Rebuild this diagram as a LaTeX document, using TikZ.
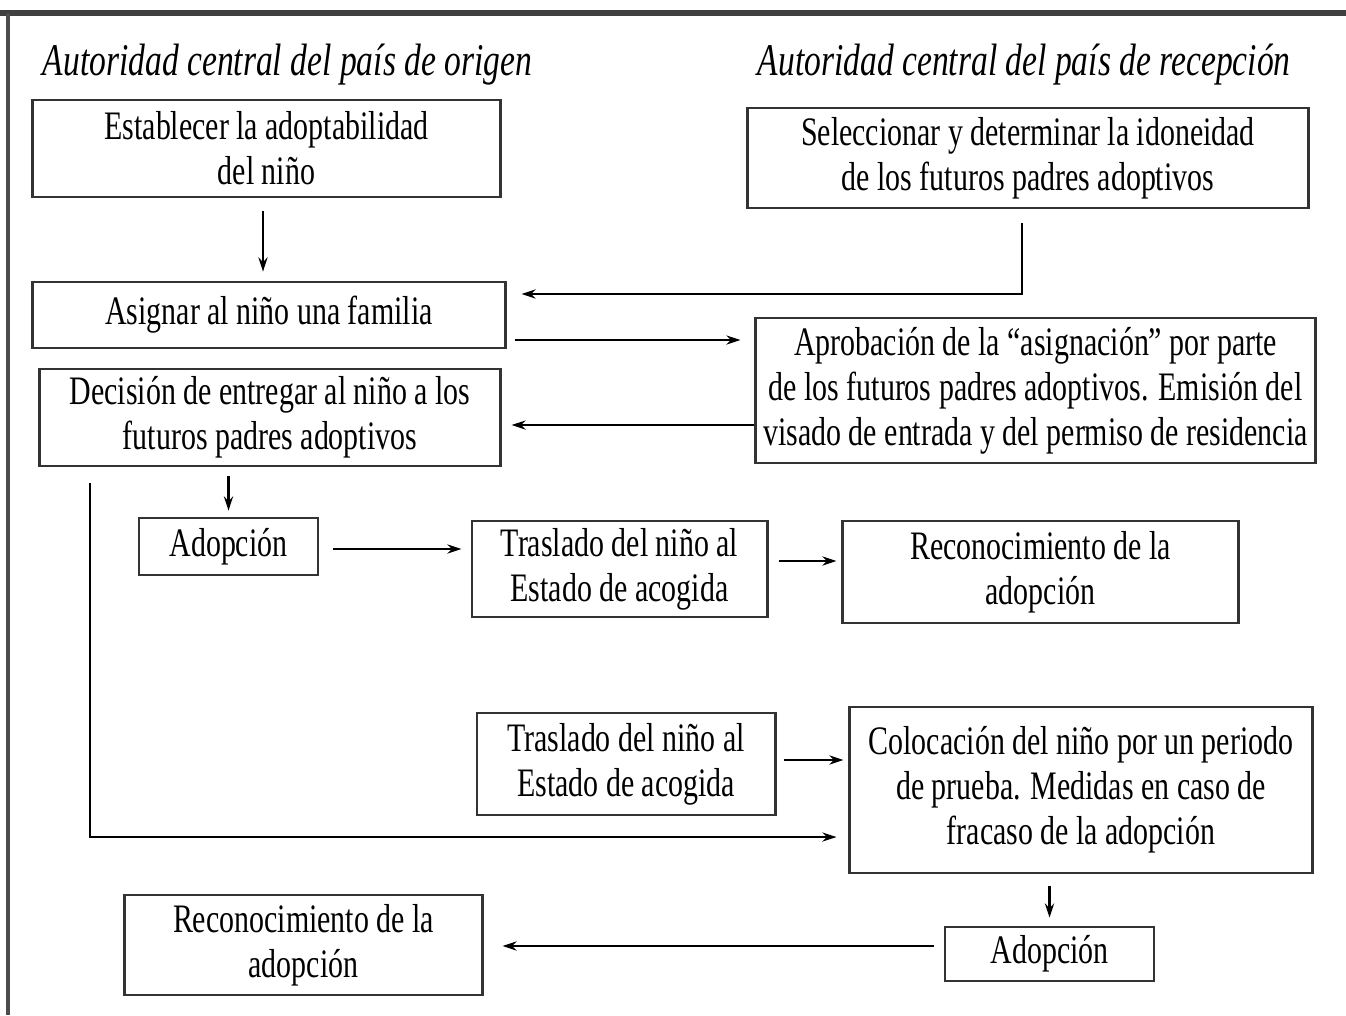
\documentclass[tikz,border=0pt]{standalone}
\usepackage{fontspec}
\setmainfont[FakeStretch=0.74]{Liberation Serif}
\usetikzlibrary{arrows.meta,calc,positioning}

\begin{document}
\begin{tikzpicture}[
  x=0.01cm, y=-0.01cm,
  font=\fontsize{11.5}{12.8}\selectfont,
  box/.style={draw=black!80, line width=0.8pt, align=center, inner sep=0pt, fill=white},
  heading/.style={font=\fontsize{12.9}{14}\selectfont\itshape, anchor=west, inner sep=0pt},
  flecha/.style={line width=0.7pt, -{Stealth[length=4pt,width=2.6pt]}}
]
\useasboundingbox (0,0) rectangle (1346,1015);

% Frame (top and left only)
\draw[black!75, line width=1.7pt] (0,13) -- (1346,13);
\draw[black!70, line width=0.9pt] (8,13) -- (8,1015);

% Headings
\node[heading] (origen) at (42,65) {Autoridad central del país de origen};
\node[heading] (recepcion) at (757,65) {Autoridad central del país de recepción};

% Country of origin
\node[box, minimum width=4.67cm, minimum height=0.97cm] (establecer) at (266.5,148.5)
  {Establecer la adoptabilidad\\ del niño};
\node[box, minimum width=4.72cm, minimum height=0.66cm] (asignar) at (269,315)
  {Asignar al niño una familia};
\node[box, minimum width=4.60cm, minimum height=0.97cm] (decision) at (270,417.5)
  {Decisión de entregar al niño a los\\ futuros padres adoptivos};

% Receiving country
\node[box, minimum width=5.60cm, minimum height=1.00cm] (seleccionar) at (1028,158)
  {Seleccionar y determinar la idoneidad\\ de los futuros padres adoptivos};
\node[box, minimum width=5.59cm, minimum height=1.45cm] (aprobacion) at (1035.5,390.5)
  {Aprobación de la ``asignación'' por parte\\ de los futuros padres adoptivos. Emisión del\\ visado de entrada y del permiso de residencia};

% First branch
\node[box, minimum width=1.79cm, minimum height=0.57cm] (adopcionA) at (228.5,546.5) {Adopción};
\node[box, minimum width=2.95cm, minimum height=0.96cm] (trasladoA) at (619.5,569)
  {Traslado del niño al\\ Estado de acogida};
\node[box, minimum width=3.95cm, minimum height=1.02cm] (reconocimientoA) at (1040.5,572)
  {Reconocimiento de la\\ adopción};

% Second branch
\node[box, minimum width=2.98cm, minimum height=1.02cm] (trasladoB) at (626,764)
  {Traslado del niño al\\ Estado de acogida};
\node[box, minimum width=4.62cm, minimum height=1.66cm] (colocacion) at (1081,790)
  {Colocación del niño por un periodo\\ de prueba. Medidas en caso de\\ fracaso de la adopción};
\node[box, minimum width=2.09cm, minimum height=0.54cm] (adopcionB) at (1049.5,954) {Adopción};
\node[box, minimum width=3.57cm, minimum height=1.00cm] (reconocimientoB) at (303.5,945)
  {Reconocimiento de la\\ adopción};

% Arrows
\draw[flecha, shorten <=0.13cm, shorten >=0.09cm] ([xshift=-0.035cm]establecer.south)
  -- ([xshift=-0.035cm]establecer.south |- asignar.north);
\draw[flecha, shorten <=0.14cm, shorten >=0.15cm] ([xshift=-0.06cm]seleccionar.south)
  |- ([yshift=0.21cm]asignar.east);
\draw[flecha, shorten <=0.08cm, shorten >=0.14cm] ([yshift=-0.25cm]asignar.east)
  -- ([yshift=-0.25cm]asignar.east -| aprobacion.west);
\draw[flecha, shorten >=0.1cm] ([yshift=-0.345cm]aprobacion.west)
  -- ([yshift=-0.345cm]aprobacion.west -| decision.east);
\draw[flecha, shorten <=0.09cm, shorten >=0.06cm] (decision.south -| adopcionA.north)
  -- (adopcionA.north);
\draw[flecha, shorten <=0.16cm, shorten >=0.12cm] ([xshift=-1.8cm]decision.south)
  |- ([yshift=-0.47cm]colocacion.west);
\draw[flecha, shorten <=0.14cm, shorten >=0.09cm] ([yshift=-0.025cm]adopcionA.east)
  -- ([yshift=-0.025cm]adopcionA.east -| trasladoA.west);
\draw[flecha, shorten <=0.1cm, shorten >=0.05cm] ([yshift=0.08cm]trasladoA.east)
  -- ([yshift=0.08cm]trasladoA.east -| reconocimientoA.west);
\draw[flecha, shorten <=0.07cm, shorten >=0.05cm] ([yshift=0.04cm]trasladoB.east)
  -- ([yshift=0.04cm]trasladoB.east -| colocacion.west);
\draw[flecha, shorten <=0.12cm, shorten >=0.08cm] (colocacion.south -| adopcionB.north)
  -- (adopcionB.north);
\draw[flecha, shorten <=0.1cm, shorten >=0.19cm] ([yshift=0.08cm]adopcionB.west)
  -- ([yshift=0.08cm]adopcionB.west -| reconocimientoB.east);
\end{tikzpicture}
\end{document}
